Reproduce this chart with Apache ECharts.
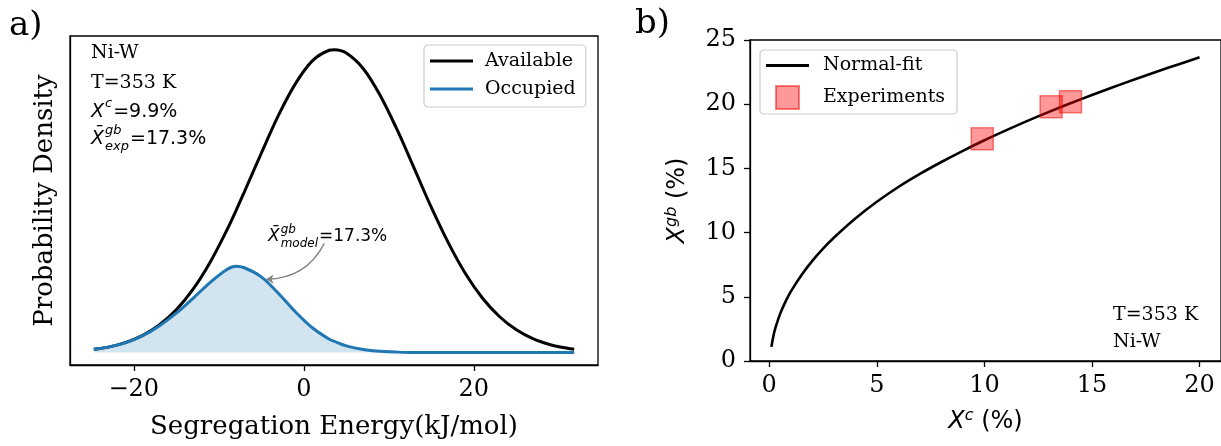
<!DOCTYPE html>
<html>
<head>
<meta charset="utf-8">
<script src="https://cdn.jsdelivr.net/npm/echarts@6/dist/echarts.min.js"></script>
<style>
html, body { margin: 0; background: #fff; }
#chart { width: 1221px; height: 446px; }
</style>
</head>
<body>
<div id="chart"></div>
<script>
// panel a) segregation energy spectrum (kJ/mol vs density)
const energy = [-24.7, -23, -21, -19, -17, -15, -13, -11, -9, -8, -7, -5, -3, -1, 1, 3, 3.6,
  5, 7, 9, 11, 13, 15, 17, 19, 21, 23, 25, 27, 29, 31, 31.8];
const available = [0.0108, 0.018, 0.033, 0.056, 0.091, 0.141, 0.210, 0.299, 0.407, 0.467, 0.530,
  0.658, 0.782, 0.887, 0.963, 0.998, 1.000, 0.989, 0.937, 0.848, 0.734, 0.607, 0.479, 0.362,
  0.261, 0.180, 0.119, 0.075, 0.045, 0.026, 0.014, 0.011];
const occupied = [0.0107, 0.018, 0.032, 0.055, 0.088, 0.130, 0.180, 0.232, 0.275, 0.285, 0.280,
  0.250, 0.196, 0.135, 0.082, 0.044, 0.037, 0.022, 0.010, 0.004, 0.0015, 0.0005, 0, 0,
  0, 0, 0, 0, 0, 0, 0, 0];
const energyTicks = [-20, 0, 20];
// annotation arrow, from the label down to the occupied curve
const arrowFrom = [2.4, 0.36];
const arrowTo = [-4.4, 0.242];

// panel b) grain boundary vs bulk concentration
const fitXc = [0.1, 0.2, 0.3, 0.5, 0.75, 1, 1.5, 2, 2.5, 3, 4, 5, 6, 7, 8, 9, 10,
  11, 12, 13, 14, 15, 16, 17, 18, 19, 20];
const fitXgb = [1.1, 2.0, 2.65, 3.65, 4.6, 5.4, 6.7, 7.8, 8.75, 9.6, 11.1, 12.4, 13.55, 14.57, 15.5,
  16.37, 17.19, 17.96, 18.7, 19.4, 20.07, 20.72, 21.34, 21.94, 22.53, 23.09, 23.65];
const expXc = [9.9, 13.1, 14.0];
const expXgb = [17.3, 19.8, 20.2];
const concTicks = [0, 5, 10, 15, 20];

const SERIF = '"DejaVu Serif", serif';
const SANS = '"DejaVu Sans", sans-serif';

const chart = echarts.init(document.getElementById('chart'), null, { renderer: 'canvas' });

const zip = (xs, ys) => xs.map((x, i) => [x, ys[i]]);
const minus = v => String(v).replace('-', '\u2212');

// measure helper for hand-built math labels
const ctx = document.createElement('canvas').getContext('2d');
function textWidth(str, size, italic) {
  ctx.font = (italic ? 'italic ' : '') + size + 'px ' + SANS;
  return ctx.measureText(str).width;
}

// math-style label: X (barred if it has a subscript), sup / sub stacked, then the tail
function mathLabel(x, y, size, sup, sub, tail) {
  const els = [];
  const small = Math.round(size * 0.7);
  const base = { fill: '#000', verticalAlign: 'middle', align: 'left' };
  els.push({ type: 'text', x: x, y: y, style: Object.assign({ text: sub ? 'X\u0304' : 'X', font: 'italic ' + size + 'px ' + SANS }, base) });
  let cx = x + textWidth('X', size, true) + 1;
  let w = 0;
  if (sup) {
    els.push({ type: 'text', x: cx, y: y - size * 0.42, style: Object.assign({ text: sup, font: 'italic ' + small + 'px ' + SANS }, base) });
    w = Math.max(w, textWidth(sup, small, true));
  }
  if (sub) {
    els.push({ type: 'text', x: cx, y: y + size * 0.38, style: Object.assign({ text: sub, font: 'italic ' + small + 'px ' + SANS }, base) });
    w = Math.max(w, textWidth(sub, small, true));
  }
  cx += w + 1;
  els.push({ type: 'text', x: cx, y: y, style: Object.assign({ text: tail, font: size + 'px ' + SANS }, base) });
  return els;
}

function serifText(x, y, str, size) {
  return { type: 'text', x: x, y: y, style: { text: str, font: size + 'px ' + SERIF, fill: '#000', align: 'left', verticalAlign: 'middle' } };
}

const axisLine = { show: true, onZero: false, lineStyle: { color: '#000', width: 1.3 } };
const tickStyle = { color: '#000', width: 1.3 };
const mathRich = {
  x: { fontFamily: SANS, fontStyle: 'italic', fontSize: 24, color: '#000' },
  s: { fontFamily: SANS, fontStyle: 'italic', fontSize: 16, color: '#000', padding: [0, 0, 12, 0] },
  n: { fontFamily: SANS, fontSize: 24, color: '#000' },
};
const lineIcon = 'path://M0,0h43v3h-43z';

const option = {
  animation: false,
  backgroundColor: '#fff',
  grid: [
    { left: 70, top: 36, width: 528, height: 329, show: true, borderColor: '#000', borderWidth: 1.3 },
    { left: 750, top: 40, width: 472, height: 321, show: true, borderColor: '#000', borderWidth: 1.3 },
  ],
  xAxis: [
    {
      gridIndex: 0, type: 'value', min: -27.5, max: 34.6,
      axisLine: axisLine, splitLine: { show: false },
      axisTick: { show: true, length: 6, customValues: energyTicks, lineStyle: tickStyle },
      axisLabel: { customValues: energyTicks, formatter: minus, color: '#000', fontFamily: SERIF, fontSize: 24, margin: 13 },
      name: 'Segregation Energy(kJ/mol)', nameLocation: 'middle', nameGap: 49,
      nameTextStyle: { color: '#000', fontFamily: SERIF, fontSize: 26 },
    },
    {
      gridIndex: 1, type: 'value', min: -0.895, max: 20.995,
      axisLine: axisLine, splitLine: { show: false },
      axisTick: { show: true, length: 6, customValues: concTicks, lineStyle: tickStyle },
      axisLabel: { customValues: concTicks, color: '#000', fontFamily: SERIF, fontSize: 24, margin: 13 },
      name: '{x|X}{s|c} {n|(%)}', nameLocation: 'middle', nameGap: 47,
      nameTextStyle: { color: '#000', fontFamily: SANS, fontSize: 24, rich: mathRich },
    },
  ],
  yAxis: [
    {
      gridIndex: 0, type: 'value', min: -0.041, max: 1.045,
      axisLine: axisLine, splitLine: { show: false },
      axisTick: { show: false }, axisLabel: { show: false },
      name: 'Probability Density', nameLocation: 'middle', nameGap: 12,
      nameTextStyle: { color: '#000', fontFamily: SERIF, fontSize: 26 },
    },
    {
      gridIndex: 1, type: 'value', min: 0, max: 25, interval: 5,
      axisLine: axisLine, splitLine: { show: false },
      axisTick: { show: true, length: 6, lineStyle: tickStyle },
      axisLabel: { color: '#000', fontFamily: SERIF, fontSize: 24, margin: 14 },
      name: '{x|X}{s|gb} {n|(%)}', nameLocation: 'middle', nameGap: 58,
      nameTextStyle: { color: '#000', fontFamily: SANS, fontSize: 24, rich: mathRich },
    },
  ],
  legend: [
    {
      left: 424, top: 45, orient: 'vertical', itemWidth: 43, itemHeight: 14, itemGap: 8,
      padding: [6, 10, 8, 6], borderColor: '#cccccc', borderWidth: 1.2, borderRadius: 4,
      backgroundColor: 'rgba(255,255,255,0.8)',
      textStyle: { color: '#000', fontFamily: SERIF, fontSize: 19, lineHeight: 20, padding: [0, 0, 0, 7] },
      data: [{ name: 'Available', icon: lineIcon }, { name: 'Occupied', icon: lineIcon }],
    },
    {
      left: 760, top: 50, orient: 'vertical', itemWidth: 43, itemHeight: 23, itemGap: 8,
      padding: [4, 12, 4, 6], borderColor: '#cccccc', borderWidth: 1.2, borderRadius: 4,
      backgroundColor: 'rgba(255,255,255,0.8)',
      textStyle: { color: '#000', fontFamily: SERIF, fontSize: 19, lineHeight: 23, padding: [0, 0, 0, 9] },
      data: [{ name: 'Normal-fit', icon: lineIcon }, { name: 'Experiments', icon: 'path://M0,0h10v10h-10z' }],
    },
  ],
  series: [
    {
      name: 'Available', type: 'line', xAxisIndex: 0, yAxisIndex: 0,
      data: zip(energy, available), smooth: 0.35, symbol: 'none',
      lineStyle: { color: '#000', width: 3 }, itemStyle: { color: '#000' }, z: 2,
    },
    {
      name: 'Occupied', type: 'line', xAxisIndex: 0, yAxisIndex: 0,
      data: zip(energy, occupied), smooth: 0.35, symbol: 'none',
      lineStyle: { color: '#1f77b4', width: 3 }, itemStyle: { color: '#1f77b4' },
      areaStyle: { color: 'rgba(31,119,180,0.2)', opacity: 1, origin: 0 }, z: 3,
    },
    {
      type: 'lines', coordinateSystem: 'cartesian2d', xAxisIndex: 0, yAxisIndex: 0,
      data: [{ coords: [arrowFrom, arrowTo] }],
      symbol: ['none', 'arrow'], symbolSize: 7,
      lineStyle: { color: '#808080', width: 1.5, curveness: 0.3, opacity: 1 }, z: 4,
    },
    {
      name: 'Normal-fit', type: 'line', xAxisIndex: 1, yAxisIndex: 1,
      data: zip(fitXc, fitXgb), smooth: 0.35, symbol: 'none',
      lineStyle: { color: '#000', width: 2.6 }, itemStyle: { color: '#000' }, z: 2,
    },
    {
      name: 'Experiments', type: 'scatter', xAxisIndex: 1, yAxisIndex: 1,
      data: zip(expXc, expXgb), symbol: 'rect', symbolSize: 22,
      itemStyle: { color: 'rgba(255,0,0,0.5)', borderColor: 'rgba(235,0,0,0.6)', borderWidth: 1.5 }, z: 3,
    },
  ],
};

chart.setOption(option);

const graphics = [
  serifText(9, 26, 'a)', 34),
  serifText(635, 24, 'b)', 34),
  serifText(91, 53, 'Ni-W', 19),
  serifText(91, 83, 'T=353 K', 19),
  serifText(1113, 315, 'T=353 K', 19),
  serifText(1113, 342, 'Ni-W', 19),
]
  .concat(mathLabel(91, 112, 19, 'c', null, '=9.9%'))
  .concat(mathLabel(91, 139, 19, 'gb', 'exp', '=17.3%'))
  .concat(mathLabel(268, 237, 17, 'gb', 'model', '=17.3%'));

chart.setOption({ graphic: graphics });
</script>
</body>
</html>
